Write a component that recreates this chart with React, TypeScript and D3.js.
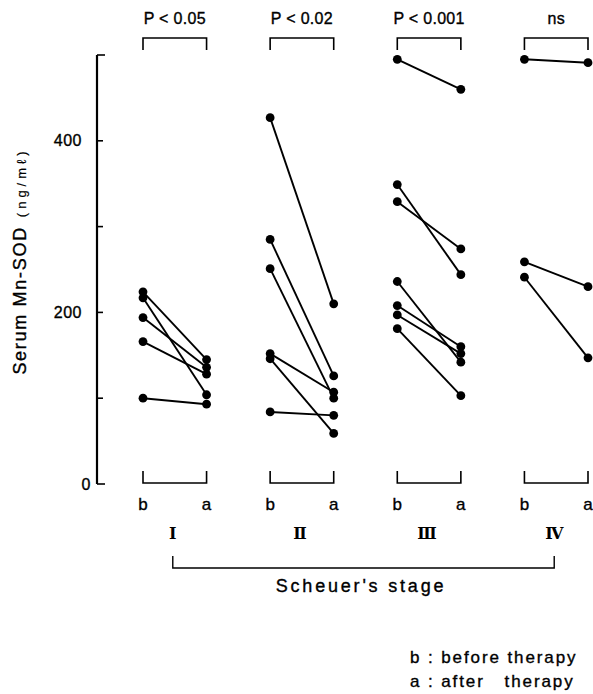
import React from "react";
import * as d3 from "d3";

const stages = ["Ⅰ", "Ⅱ", "Ⅲ", "Ⅳ"];
const pLabels = ["P < 0.05", "P < 0.02", "P < 0.001", "ns"];
const phaseLabels = ["b", "a"];
const yTicks = [0, 100, 200, 300, 400, 500];
const yTickLabels = [0, 200, 400];

// pairs [before, after] per stage
const stageI = [[224, 145], [217, 104], [194, 136], [166, 128], [100, 93]];
const stageII = [[427, 210], [285, 126], [251, 100], [152, 107], [146, 59], [84, 80]];
const stageIII = [[495, 460], [349, 244], [329, 274], [236, 142], [208, 160], [197, 152], [181, 103]];
const stageIV = [[495, 491], [259, 230], [241, 147]];
const allStages = [stageI, stageII, stageIII, stageIV];

const W = 593;
const H = 694;

export default function App() {
  const x = d3.scaleLinear().domain([0, 3.5]).range([143, 588]);
  const y = d3.scaleLinear().domain([0, 500]).range([484, 55]);
  const axisX = 97;
  const font = "'Liberation Sans', Arial, sans-serif";
  const line = d3.line<[number, number]>();
  const tStroke = { stroke: "#000", strokeWidth: 0.35 };

  return (
    <svg
      width={W}
      height={H}
      style={{ position: "absolute", left: 0, top: 0, background: "#fff" }}
      fontFamily={font}
    >
      {/* y axis */}
      <line x1={axisX} x2={axisX} y1={y(0)} y2={y(500)} stroke="#000" strokeWidth={2.2} />
      {yTicks.map((t) => (
        <line
          key={t}
          x1={axisX}
          x2={axisX + (t === 0 || t === 500 ? 8 : 6)}
          y1={y(t)}
          y2={y(t)}
          stroke="#000"
          strokeWidth={1.6}
        />
      ))}
      {yTickLabels.map((t) => (
        <text
          key={t}
          x={t === 0 ? 91 : 82}
          y={y(t) + 5.5}
          textAnchor="end"
          fontSize={16}
          letterSpacing={0.5}
          {...tStroke}
        >
          {t}
        </text>
      ))}
      <text
        transform={`translate(26,${261}) rotate(-90)`}
        textAnchor="middle"
        fontSize={18}
        letterSpacing={1.7}
        {...tStroke}
      >
        Serum Mn-SOD
        <tspan fontSize={13} letterSpacing={4} dx={9} strokeWidth={0.2}>
          (ng/mℓ)
        </tspan>
      </text>

      {/* data */}
      {allStages.map((pairs, i) => (
        <g key={i}>
          {pairs.map((p, j) => {
            const pts: [number, number][] = [
              [x(i), y(p[0])],
              [x(i + 0.5), y(p[1])],
            ];
            return (
              <g key={j}>
                <path d={line(pts) || ""} stroke="#000" strokeWidth={1.9} fill="none" />
                <circle cx={pts[0][0]} cy={pts[0][1]} r={4.4} fill="#000" />
                <circle cx={pts[1][0]} cy={pts[1][1]} r={4.4} fill="#000" />
              </g>
            );
          })}
        </g>
      ))}

      {/* top brackets and p-values */}
      {pLabels.map((p, i) => {
        const x0 = x(i);
        const x1 = x(i + 0.5);
        return (
          <g key={p}>
            <path
              d={`M${x0},50 V38 H${x1} V50`}
              stroke="#000"
              strokeWidth={1.6}
              fill="none"
            />
            <text
              x={(x0 + x1) / 2}
              y={24}
              textAnchor="middle"
              fontSize={16}
              letterSpacing={0.3}
              {...tStroke}
            >
              {p}
            </text>
          </g>
        );
      })}

      {/* bottom brackets, b/a labels, stages */}
      {stages.map((s, i) => {
        const x0 = x(i);
        const x1 = x(i + 0.5);
        return (
          <g key={s}>
            <path
              d={`M${x0},471 V483 H${x1} V471`}
              stroke="#000"
              strokeWidth={1.6}
              fill="none"
            />
            {phaseLabels.map((l, k) => (
              <text
                key={l}
                x={x(i + k * 0.5)}
                y={510}
                textAnchor="middle"
                fontSize={17}
                {...tStroke}
              >
                {l}
              </text>
            ))}
            <text
              x={(x0 + x1) / 2 - 2}
              y={539}
              textAnchor="middle"
              fontSize={16}
              fontFamily="'DejaVu Serif', serif"
              fontWeight="bold"
            >
              {s}
            </text>
          </g>
        );
      })}
      <path
        d={`M${(x(0) + x(0.5)) / 2 - 2},556 V568 H${(x(3) + x(3.5)) / 2 - 2} V556`}
        stroke="#000"
        strokeWidth={1.4}
        fill="none"
      />
      <text
        x={361}
        y={592}
        textAnchor="middle"
        fontSize={18}
        letterSpacing={2.8}
        {...tStroke}
      >
        Scheuer's stage
      </text>

      {/* legend */}
      <text x={410} y={663} fontSize={17} letterSpacing={1.9} {...tStroke}>
        b : before therapy
      </text>
      <text
        x={410}
        y={687}
        fontSize={17}
        letterSpacing={1.9}
        style={{ whiteSpace: "pre" }}
        {...tStroke}
      >
        {"a : after   therapy"}
      </text>
    </svg>
  );
}
